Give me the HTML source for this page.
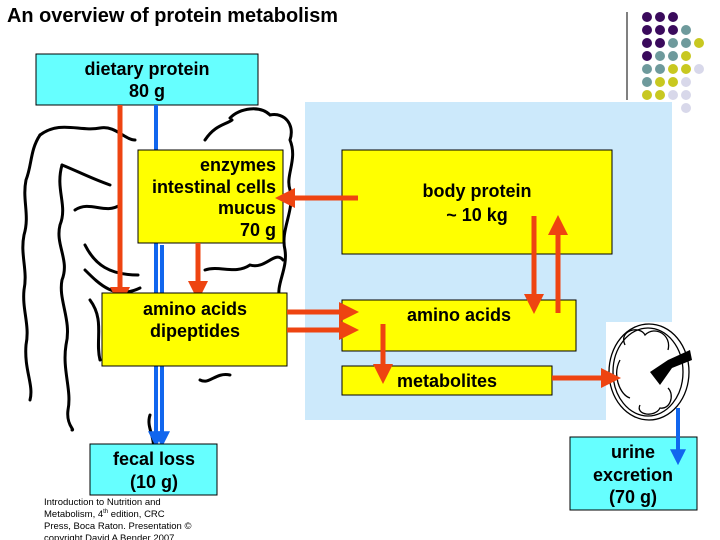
<!DOCTYPE html>
<html><head><meta charset="utf-8"><style>
html,body{margin:0;padding:0;background:#fff;}
svg{display:block}
text{font-family:"Liberation Sans",Arial,sans-serif;font-weight:bold;fill:#000}
</style></head><body>
<svg width="720" height="540" viewBox="0 0 720 540" xmlns="http://www.w3.org/2000/svg">
<defs>
<marker id="ar" markerWidth="4" markerHeight="4" refX="2.2" refY="2" orient="auto" markerUnits="strokeWidth"><path d="M0,0 L4,2 L0,4 Z" fill="#ee4411"/></marker>
<marker id="ab" markerWidth="4" markerHeight="4" refX="2.2" refY="2" orient="auto" markerUnits="strokeWidth"><path d="M0,0 L4,2 L0,4 Z" fill="#1166ee"/></marker>
</defs>
<text x="7" y="22" font-size="20" textLength="331" lengthAdjust="spacingAndGlyphs">An overview of protein metabolism</text>
<path d="M305,102 H672 V322 H606 V420 H305 Z" fill="#cce9fb"/>
<g>
<line x1="627" y1="12" x2="627" y2="100" stroke="#000" stroke-width="1"/>
<g fill="#3a0a5c">
<circle cx="647" cy="17" r="5"/><circle cx="660" cy="17" r="5"/><circle cx="673" cy="17" r="5"/>
<circle cx="647" cy="30" r="5"/><circle cx="660" cy="30" r="5"/><circle cx="673" cy="30" r="5"/>
<circle cx="647" cy="43" r="5"/><circle cx="660" cy="43" r="5"/>
<circle cx="647" cy="56" r="5"/>
</g>
<g fill="#6e9a9c">
<circle cx="686" cy="30" r="5"/><circle cx="673" cy="43" r="5"/><circle cx="686" cy="43" r="5"/>
<circle cx="660" cy="56" r="5"/><circle cx="673" cy="56" r="5"/>
<circle cx="647" cy="69" r="5"/><circle cx="660" cy="69" r="5"/><circle cx="647" cy="82" r="5"/>
</g>
<g fill="#c8c820">
<circle cx="699" cy="43" r="5"/><circle cx="686" cy="56" r="5"/>
<circle cx="673" cy="69" r="5"/><circle cx="686" cy="69" r="5"/>
<circle cx="660" cy="82" r="5"/><circle cx="673" cy="82" r="5"/>
<circle cx="647" cy="95" r="5"/><circle cx="660" cy="95" r="5"/>
</g>
<g fill="#d8d8ea">
<circle cx="699" cy="69" r="5"/><circle cx="686" cy="82" r="5"/>
<circle cx="673" cy="95" r="5"/><circle cx="686" cy="95" r="5"/><circle cx="686" cy="108" r="5"/>
</g>
</g>
<g fill="none" stroke="#000" stroke-width="3" stroke-linecap="round">
<path d="M40,135 C30,150 32,165 26,180 C22,200 30,215 24,235 C20,255 28,270 24,290 C22,310 30,325 26,345 C24,370 34,385 30,400"/>
<path d="M40,135 C60,120 80,132 100,128 C115,125 125,140 135,140"/>
<path d="M62,165 C55,190 68,205 60,225 C55,245 70,260 62,280 C58,300 72,320 66,345 C62,370 72,390 68,410 C66,425 75,430 72,430"/>
<path d="M62,165 C75,170 90,178 110,185"/>
<path d="M75,210 C90,200 105,215 120,205"/>
<path d="M85,245 C95,265 110,275 138,275"/>
<path d="M85,270 C100,285 115,300 140,288"/>
<path d="M90,300 C105,320 95,340 100,360"/>
<path d="M230,118 C240,108 260,105 270,115 C285,112 295,125 290,140 C298,160 285,175 290,190 C295,210 280,230 285,250 C288,270 275,285 280,300"/>
<path d="M205,140 C215,125 225,125 232,120"/>
<path d="M283,260 C275,250 265,270 250,265 C235,275 220,265 205,270"/>
<path d="M150,415 C145,430 160,440 150,460"/>
<path d="M200,380 C210,385 215,372 230,375"/>
</g>
<rect x="36" y="54" width="222" height="51" fill="#66ffff" stroke="#000" stroke-width="1"/>
<text x="147" y="75" font-size="18" text-anchor="middle">dietary protein</text>
<text x="147" y="97" font-size="18" text-anchor="middle">80 g</text>
<line x1="156" y1="105" x2="156" y2="440" stroke="#1166ee" stroke-width="4" marker-end="url(#ab)"/>
<line x1="162" y1="245" x2="162" y2="440" stroke="#1166ee" stroke-width="4" marker-end="url(#ab)"/>
<line x1="120" y1="105" x2="120" y2="298" stroke="#ee4411" stroke-width="5" marker-end="url(#ar)"/>
<rect x="138" y="150" width="145" height="93" fill="#ffff00" stroke="#000" stroke-width="1"/>
<text x="276" y="171" font-size="18" text-anchor="end">enzymes</text>
<text x="276" y="193" font-size="18" text-anchor="end">intestinal cells</text>
<text x="276" y="214" font-size="18" text-anchor="end">mucus</text>
<text x="276" y="236" font-size="18" text-anchor="end">70 g</text>
<line x1="198" y1="243" x2="198" y2="292" stroke="#ee4411" stroke-width="5" marker-end="url(#ar)"/>
<rect x="102" y="293" width="185" height="73" fill="#ffff00" stroke="#000" stroke-width="1"/>
<text x="195" y="315" font-size="18" text-anchor="middle">amino acids</text>
<text x="195" y="337" font-size="18" text-anchor="middle">dipeptides</text>
<rect x="90" y="444" width="127" height="51" fill="#66ffff" stroke="#000" stroke-width="1"/>
<text x="154" y="465" font-size="18" text-anchor="middle">fecal loss</text>
<text x="154" y="488" font-size="18" text-anchor="middle">(10 g)</text>
<text x="44" y="505" style="font-weight:normal" font-size="9.5">Introduction to Nutrition and</text>
<text x="44" y="517" style="font-weight:normal" font-size="9.5">Metabolism, 4<tspan font-size="6" dy="-4">th</tspan><tspan dy="4"> edition, CRC</tspan></text>
<text x="44" y="529" style="font-weight:normal" font-size="9.5">Press, Boca Raton. Presentation ©</text>
<text x="44" y="541" style="font-weight:normal" font-size="9.5">copyright David A Bender 2007</text>
<rect x="342" y="150" width="270" height="104" fill="#ffff00" stroke="#000" stroke-width="1"/>
<text x="477" y="197" font-size="18" text-anchor="middle">body protein</text>
<text x="477" y="221" font-size="18" text-anchor="middle">~ 10 kg</text>
<rect x="342" y="300" width="234" height="51" fill="#ffff00" stroke="#000" stroke-width="1"/>
<text x="459" y="321" font-size="18" text-anchor="middle">amino acids</text>
<rect x="342" y="366" width="210" height="29" fill="#ffff00" stroke="#000" stroke-width="1"/>
<text x="447" y="387" font-size="18" text-anchor="middle">metabolites</text>
<line x1="358" y1="198" x2="284" y2="198" stroke="#ee4411" stroke-width="5" marker-end="url(#ar)"/>
<line x1="287" y1="312" x2="350" y2="312" stroke="#ee4411" stroke-width="5" marker-end="url(#ar)"/>
<line x1="287" y1="330" x2="350" y2="330" stroke="#ee4411" stroke-width="5" marker-end="url(#ar)"/>
<line x1="534" y1="216" x2="534" y2="305" stroke="#ee4411" stroke-width="5" marker-end="url(#ar)"/>
<line x1="558" y1="313" x2="558" y2="224" stroke="#ee4411" stroke-width="5" marker-end="url(#ar)"/>
<line x1="383" y1="324" x2="383" y2="375" stroke="#ee4411" stroke-width="5" marker-end="url(#ar)"/>
<g fill="none" stroke="#000" stroke-width="1.3">
<ellipse cx="649" cy="372" rx="40" ry="48"/>
<ellipse cx="648" cy="372" rx="35" ry="44"/>
<path d="M625,345 C618,330 640,325 645,335 C655,325 672,335 668,350"/>
<path d="M620,360 C612,375 620,395 630,398"/>
<path d="M640,405 C635,415 655,418 660,408 C670,410 675,395 668,388"/>
</g>
<path d="M650,372 L668,360 L690,350 L692,360 L672,368 L660,385 Z" fill="#000"/>
<line x1="552" y1="378" x2="612" y2="378" stroke="#ee4411" stroke-width="5" marker-end="url(#ar)"/>
<rect x="570" y="437" width="127" height="73" fill="#66ffff" stroke="#000" stroke-width="1"/>
<text x="633" y="458" font-size="18" text-anchor="middle">urine</text>
<text x="633" y="481" font-size="18" text-anchor="middle">excretion</text>
<text x="633" y="503" font-size="18" text-anchor="middle">(70 g)</text>
<line x1="678" y1="408" x2="678" y2="458" stroke="#1166ee" stroke-width="4" marker-end="url(#ab)"/>
</svg>
</body></html>
